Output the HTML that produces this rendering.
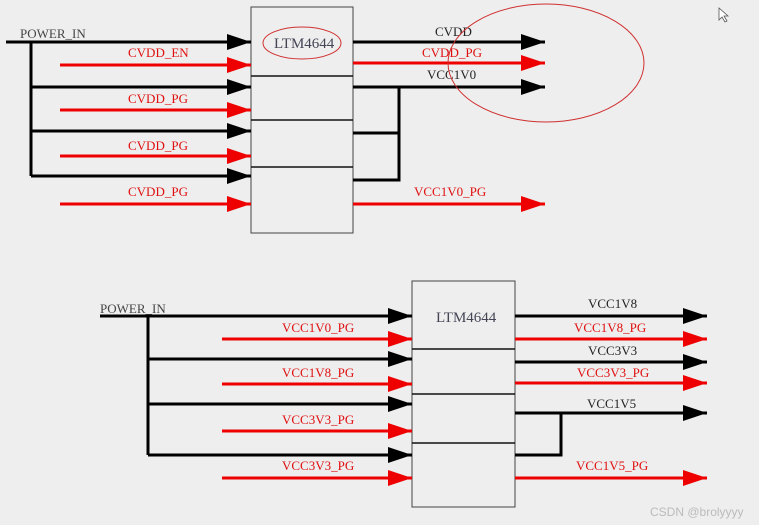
<!DOCTYPE html>
<html><head><style>
html,body{margin:0;padding:0;background:#eeeeee;}
svg{display:block;}
text{font-family:"Liberation Serif","Noto Serif CJK SC",serif;font-size:13px;}
.k{fill:#222}.r{fill:#e01010}
</style></head><body>
<svg width="759" height="525" viewBox="0 0 759 525" xmlns="http://www.w3.org/2000/svg">
<defs>
<marker id="ab" markerWidth="24" markerHeight="16" refX="24" refY="8" orient="auto" markerUnits="userSpaceOnUse"><path d="M0,0 L24,8 L0,16 Z" fill="#000"/></marker>
<marker id="ar" markerWidth="24" markerHeight="16" refX="24" refY="8" orient="auto" markerUnits="userSpaceOnUse"><path d="M0,0 L24,8 L0,16 Z" fill="#ee0000"/></marker>
</defs>
<rect width="759" height="525" fill="#eeeeee"/>
<!-- TOP BLOCK -->
<rect x="251" y="7" width="102" height="226" fill="none" stroke="#444" stroke-width="1"/>
<g stroke="#111" stroke-width="1.5"><line x1="251" y1="76" x2="353" y2="76"/><line x1="251" y1="120" x2="353" y2="120"/><line x1="251" y1="167" x2="353" y2="167"/></g>
<ellipse cx="302" cy="43" rx="39" ry="16" fill="none" stroke="#d03030" stroke-width="1"/>
<text x="274" y="48" class="k" style="fill:#445;font-size:15px">LTM4644</text>
<g stroke="#000" stroke-width="3" fill="none">
<line x1="6" y1="42" x2="251" y2="42" marker-end="url(#ab)"/>
<line x1="31" y1="87" x2="251" y2="87" marker-end="url(#ab)"/>
<line x1="31" y1="131" x2="251" y2="131" marker-end="url(#ab)"/>
<line x1="31" y1="176" x2="251" y2="176" marker-end="url(#ab)"/>
<polyline points="31,42 31,176"/>
<line x1="353" y1="42" x2="545" y2="42" marker-end="url(#ab)"/>
<line x1="353" y1="87" x2="545" y2="87" marker-end="url(#ab)"/>
<polyline points="399,87 399,180 353,180"/>
<line x1="353" y1="133" x2="399" y2="133"/>
</g>
<g stroke="#ee0000" stroke-width="3">
<line x1="60" y1="65" x2="251" y2="65" marker-end="url(#ar)"/>
<line x1="60" y1="110" x2="251" y2="110" marker-end="url(#ar)"/>
<line x1="60" y1="156" x2="251" y2="156" marker-end="url(#ar)"/>
<line x1="60" y1="204" x2="251" y2="204" marker-end="url(#ar)"/>
<line x1="353" y1="63" x2="545" y2="63" marker-end="url(#ar)"/>
<line x1="353" y1="204" x2="545" y2="204" marker-end="url(#ar)"/>
</g>
<text x="20" y="38" class="k" style="fill:#444">POWER_IN</text>
<text x="128" y="57" class="r">CVDD_EN</text>
<text x="128" y="103" class="r">CVDD_PG</text>
<text x="128" y="150" class="r">CVDD_PG</text>
<text x="128" y="196" class="r">CVDD_PG</text>
<text x="435" y="36" class="k">CVDD</text>
<text x="422" y="57" class="r">CVDD_PG</text>
<text x="427" y="79" class="k">VCC1V0</text>
<text x="414" y="196" class="r">VCC1V0_PG</text>
<ellipse cx="546" cy="63" rx="98" ry="59" fill="none" stroke="#d03030" stroke-width="1"/>
<!-- BOTTOM BLOCK -->
<rect x="412" y="281" width="103" height="226" fill="none" stroke="#444" stroke-width="1"/>
<g stroke="#111" stroke-width="1.5"><line x1="412" y1="349" x2="515" y2="349"/><line x1="412" y1="394" x2="515" y2="394"/><line x1="412" y1="443" x2="515" y2="443"/></g>
<text x="436" y="322" class="k" style="fill:#445;font-size:15px">LTM4644</text>
<g stroke="#000" stroke-width="3" fill="none">
<line x1="100" y1="316" x2="412" y2="316" marker-end="url(#ab)"/>
<line x1="148" y1="359" x2="412" y2="359" marker-end="url(#ab)"/>
<line x1="148" y1="404" x2="412" y2="404" marker-end="url(#ab)"/>
<line x1="148" y1="455" x2="412" y2="455" marker-end="url(#ab)"/>
<polyline points="148,316 148,455"/>
<line x1="515" y1="316" x2="707" y2="316" marker-end="url(#ab)"/>
<line x1="515" y1="362" x2="707" y2="362" marker-end="url(#ab)"/>
<line x1="515" y1="413" x2="707" y2="413" marker-end="url(#ab)"/>
<polyline points="561,413 561,455 515,455"/>
</g>
<g stroke="#ee0000" stroke-width="3">
<line x1="222" y1="339" x2="412" y2="339" marker-end="url(#ar)"/>
<line x1="222" y1="384" x2="412" y2="384" marker-end="url(#ar)"/>
<line x1="222" y1="431" x2="412" y2="431" marker-end="url(#ar)"/>
<line x1="222" y1="478" x2="412" y2="478" marker-end="url(#ar)"/>
<line x1="515" y1="339" x2="707" y2="339" marker-end="url(#ar)"/>
<line x1="515" y1="383" x2="707" y2="383" marker-end="url(#ar)"/>
<line x1="515" y1="478" x2="707" y2="478" marker-end="url(#ar)"/>
</g>
<text x="100" y="313" class="k" style="fill:#444">POWER_IN</text>
<text x="282" y="332" class="r">VCC1V0_PG</text>
<text x="282" y="377" class="r">VCC1V8_PG</text>
<text x="282" y="424" class="r">VCC3V3_PG</text>
<text x="282" y="470" class="r">VCC3V3_PG</text>
<text x="588" y="308" class="k">VCC1V8</text>
<text x="574" y="332" class="r">VCC1V8_PG</text>
<text x="588" y="355" class="k">VCC3V3</text>
<text x="577" y="377" class="r">VCC3V3_PG</text>
<text x="587" y="408" class="k">VCC1V5</text>
<text x="576" y="470" class="r">VCC1V5_PG</text>
<text x="650" y="516" style="font-family:'Liberation Sans',sans-serif;font-size:12px;fill:#bbb">CSDN @brolyyyy</text>
<path d="M719,8 L719,20 L722,17 L725,22 L727,21 L724,16 L728,16 Z" fill="#fff" stroke="#555" stroke-width="0.8"/>
</svg>
</body></html>
